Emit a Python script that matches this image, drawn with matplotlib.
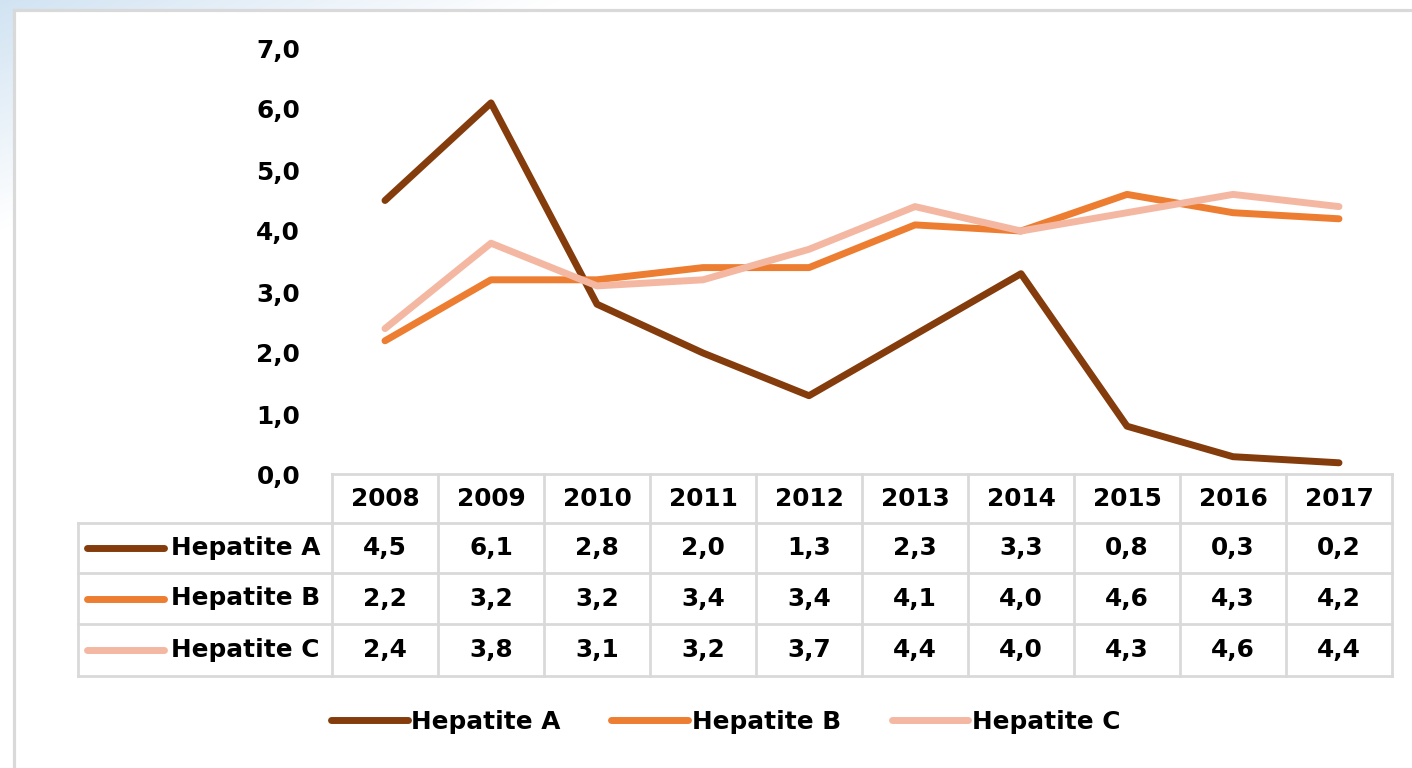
import numpy as np
import matplotlib
matplotlib.use("Agg")
import matplotlib.pyplot as plt
from matplotlib.patches import Rectangle
from matplotlib.lines import Line2D

years = ["2008", "2009", "2010", "2011", "2012", "2013", "2014", "2015", "2016", "2017"]
hep_a = [4.5, 6.1, 2.8, 2.0, 1.3, 2.3, 3.3, 0.8, 0.3, 0.2]
hep_b = [2.2, 3.2, 3.2, 3.4, 3.4, 4.1, 4.0, 4.6, 4.3, 4.2]
hep_c = [2.4, 3.8, 3.1, 3.2, 3.7, 4.4, 4.0, 4.3, 4.6, 4.4]
names = ["Hepatite A", "Hepatite B", "Hepatite C"]
colors = ["#843C0C", "#ED7D31", "#F4B8A2"]
series = [hep_a, hep_b, hep_c]

W, H = 1412, 768
plt.rcParams["font.family"] = "DejaVu Sans"
plt.rcParams["font.weight"] = "bold"
FS = 17.8
LW = 5.0
GRID = "#D9D9D9"

fig = plt.figure(figsize=(W / 100, H / 100), dpi=100)

# slide background: pale blue swoosh in the top-left corner
bg = fig.add_axes([0, 0, 1, 1])
bg.set_axis_off()
yy, xx = np.mgrid[0:H, 0:W]
t = np.clip(1 - (xx / 560 + yy / 230), 0, 1)
blue = np.array([0.82, 0.89, 0.95])
img = np.ones((H, W, 3)) * (1 - t[..., None]) + blue * t[..., None]
bg.imshow(img, extent=[0, W, H, 0], aspect="auto")
bg.set_xlim(0, W)
bg.set_ylim(H, 0)
bg.add_patch(Rectangle((13.5, 9.5), W, H, facecolor="white", edgecolor=GRID, lw=2.3))

# plot area (pixel layout of the reference)
L, R, T, B = 332, 1392, 48, 475
ax = fig.add_axes([L / W, 1 - B / H, (R - L) / W, (B - T) / H])
ax.patch.set_alpha(0)
x = np.arange(len(years))
for vals, c in zip(series, colors):
    ax.plot(x, vals, color=c, lw=LW, solid_capstyle="round", solid_joinstyle="round")
ax.set_xlim(-0.5, len(years) - 0.5)
ax.set_ylim(0, 7)
ax.set_yticks(np.arange(0, 8, 1))
ax.set_yticklabels([f"{v:.1f}".replace(".", ",") for v in range(8)], fontsize=FS, fontweight="bold")
ax.tick_params(axis="y", length=0, pad=23)
ax.set_xticks([])
for s in ax.spines.values():
    s.set_visible(False)

# data table under the plot
cw = (R - L) / len(years)
px2x = lambda px: -0.5 + (px - L) / cw
py2y = lambda py: (B - py) / (B - T)
tr = ax.get_xaxis_transform()
rows = [474, 523, 573, 624, 676]
left = 78


def seg(x0, x1, y0, y1):
    ax.add_line(Line2D([x0, x1], [py2y(y0), py2y(y1)], transform=tr, color=GRID,
                       lw=2.0, clip_on=False, zorder=1))


seg(-0.5, len(years) - 0.5, rows[0], rows[0])
for r in rows[1:]:
    seg(px2x(left), len(years) - 0.5, r, r)
for i in range(len(years) + 1):
    seg(i - 0.5, i - 0.5, rows[0], rows[-1])
seg(px2x(left), px2x(left), rows[1], rows[-1])

for i, yr in enumerate(years):
    ax.text(i, py2y((rows[0] + rows[1]) / 2), yr, transform=tr, ha="center", va="center",
            fontsize=FS, fontweight="bold")
for k, (vals, c, nm) in enumerate(zip(series, colors, names)):
    yc = py2y((rows[k + 1] + rows[k + 2]) / 2)
    ax.add_line(Line2D([px2x(87), px2x(164)], [yc, yc], transform=tr, color=c, lw=LW,
                       solid_capstyle="round", clip_on=False))
    ax.text(px2x(171), yc, nm, transform=tr, ha="left", va="center", fontsize=FS,
            fontweight="bold")
    for i, v in enumerate(vals):
        ax.text(i, yc, f"{v:.1f}".replace(".", ","), transform=tr, ha="center",
                va="center", fontsize=FS, fontweight="bold")

# legend at the bottom
handles = [Line2D([], [], color=c, lw=LW, solid_capstyle="round") for c in colors]
fig.legend(handles, names, loc="center", bbox_to_anchor=(0.514, 1 - 722 / H), ncol=3,
           frameon=False, handlelength=3.1, handletextpad=0.15, columnspacing=2.05,
           prop={"size": FS, "weight": "bold"})

fig.savefig("out.png", dpi=100)
